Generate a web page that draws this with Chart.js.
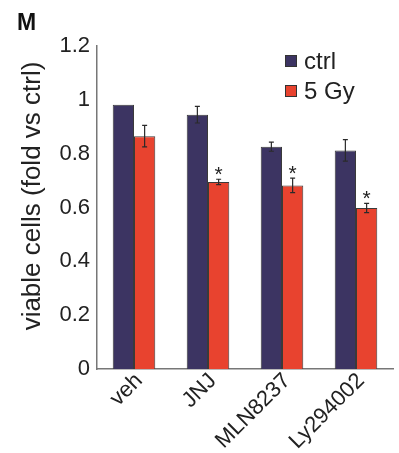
<!DOCTYPE html>
<html>
<head>
<meta charset="utf-8">
<script src="https://cdn.jsdelivr.net/npm/chart.js@4"></script>
<style>
  html, body { margin: 0; padding: 0; background: #fff; }
  #wrap { width: 399px; height: 453px; }
</style>
</head>
<body>
<div id="wrap"><canvas id="viabChart" width="399" height="453"></canvas></div>
<script>
const categories = ['veh', 'JNJ', 'MLN8237', 'Ly294002'];
const ctrlValues = [0.982, 0.945, 0.826, 0.812];
const ctrlErrors = [0, 0.031, 0.017, 0.04];
const gyValues = [0.865, 0.695, 0.682, 0.598];
const gyErrors = [0.04, 0.01, 0.027, 0.017];
const gySignificant = [false, true, true, true];
const yTitle = 'viable cells (fold vs ctrl)';

const FONT = "'Liberation Sans', Arial, sans-serif";

// error bars, asterisks, legend, y title and panel letter
const extras = {
    id: 'extras',
    afterDatasetsDraw(chart) {
        const ctx = chart.ctx;
        const y = chart.scales.y;
        const errs = [ctrlErrors, gyErrors];
        ctx.save();
        ctx.strokeStyle = '#2a2a2a';
        ctx.lineWidth = 1.2;
        chart.data.datasets.forEach((ds, di) => {
            const meta = chart.getDatasetMeta(di);
            meta.data.forEach((bar, i) => {
                const e = errs[di][i];
                if (!e) return;
                const v = ds.data[i];
                const top = y.getPixelForValue(v + e);
                const bot = y.getPixelForValue(v - e);
                ctx.beginPath();
                ctx.moveTo(bar.x, top); ctx.lineTo(bar.x, bot);
                ctx.moveTo(bar.x - 2.5, top); ctx.lineTo(bar.x + 2.5, top);
                ctx.moveTo(bar.x - 2.5, bot); ctx.lineTo(bar.x + 2.5, bot);
                ctx.stroke();
                if (di === 1 && gySignificant[i]) {
                    ctx.fillStyle = '#222';
                    ctx.font = '21px ' + FONT;
                    ctx.textAlign = 'center';
                    ctx.textBaseline = 'alphabetic';
                    ctx.fillText('*', bar.x, top + 2);
                }
            });
        });

        // legend
        ctx.font = '24px ' + FONT;
        ctx.textAlign = 'left';
        ctx.textBaseline = 'middle';
        chart.data.datasets.forEach((ds, di) => {
            const cy = 61 + di * 30;
            ctx.fillStyle = ds.backgroundColor;
            ctx.fillRect(285, cy - 6, 12, 12);
            ctx.strokeStyle = '#333';
            ctx.lineWidth = 1;
            ctx.strokeRect(285.5, cy - 5.5, 11, 11);
            ctx.fillStyle = '#222';
            ctx.fillText(ds.label, 304, cy + 1);
        });

        // y title
        ctx.save();
        ctx.translate(33, 196);
        ctx.rotate(-Math.PI / 2);
        ctx.font = '26px ' + FONT;
        ctx.textAlign = 'center';
        ctx.textBaseline = 'middle';
        ctx.fillStyle = '#222';
        ctx.fillText(yTitle, 0, 0);
        ctx.restore();

        // panel letter
        ctx.font = 'bold 23px ' + FONT;
        ctx.fillStyle = '#111';
        ctx.textAlign = 'left';
        ctx.textBaseline = 'alphabetic';
        ctx.fillText('M', 17, 30);
        ctx.restore();
    }
};

new Chart(document.getElementById('viabChart').getContext('2d'), {
    type: 'bar',
    data: {
        labels: categories,
        datasets: [{
            label: 'ctrl',
            data: ctrlValues,
            backgroundColor: '#3c3462',
            borderColor: '#3a3a3a',
            borderWidth: 1
        }, {
            label: '5 Gy',
            data: gyValues,
            backgroundColor: '#e8432f',
            borderColor: '#3a3a3a',
            borderWidth: 1
        }]
    },
    options: {
        responsive: false,
        animation: false,
        layout: { padding: { top: 46, right: 6, left: 0, bottom: 0 } },
        datasets: { bar: { categoryPercentage: 0.575, barPercentage: 1 } },
        plugins: { legend: { display: false }, tooltip: { enabled: false } },
        scales: {
            x: {
                grid: { display: false, drawTicks: false },
                border: { color: '#777', width: 1.5 },
                ticks: {
                    color: '#222', font: { family: FONT, size: 22 },
                    maxRotation: 45, minRotation: 45, autoSkip: false,
                    padding: -1, labelOffset: 5
                },
                afterFit(s) { s.height = 84; }
            },
            y: {
                min: 0, max: 1.2,
                grid: { display: false, drawTicks: false },
                border: { color: '#777', width: 1.5 },
                ticks: {
                    stepSize: 0.2, color: '#222', padding: 7,
                    font: { family: FONT, size: 22 },
                    callback: v => Number(v.toFixed(1)).toString()
                },
                afterFit(s) { s.width = 97; }
            }
        }
    },
    plugins: [extras]
});
</script>
</body>
</html>
